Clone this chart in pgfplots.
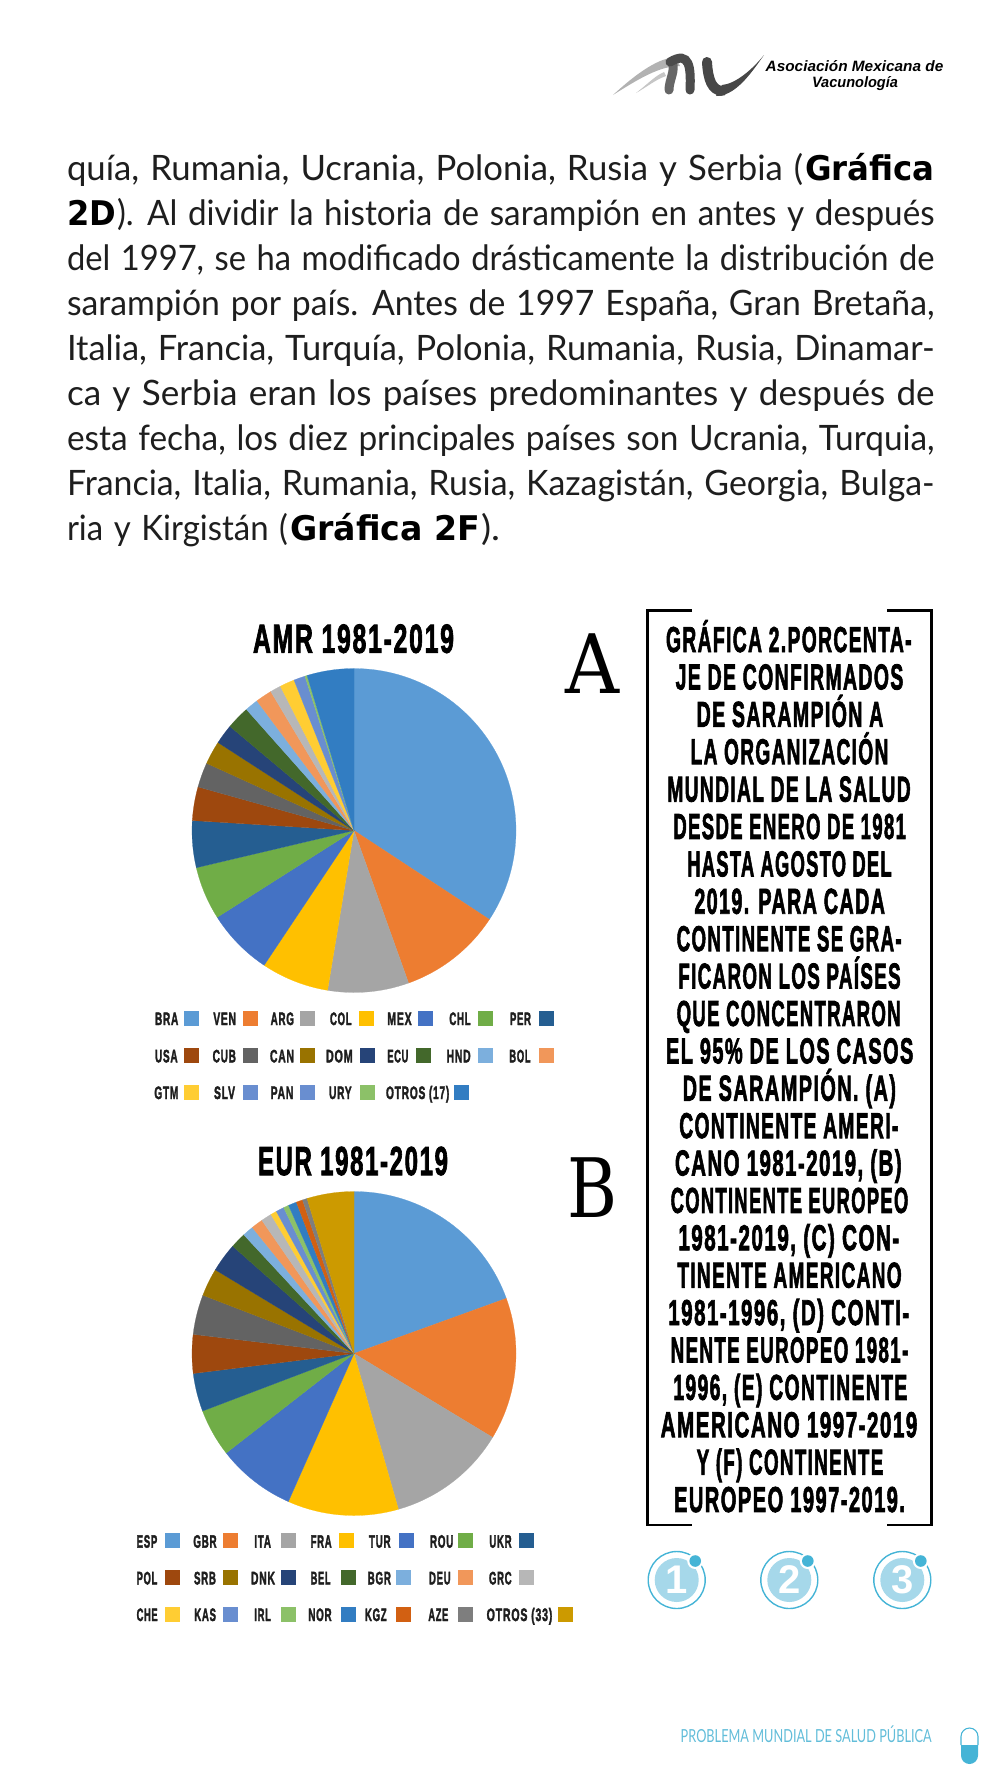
\documentclass[border=0pt]{standalone}
\usepackage{fontspec}
\usepackage{graphicx}
\usepackage{pgfplots}
\usepackage{pgfplotstable}
\pgfplotsset{compat=1.18}
\usepgfplotslibrary{polar}
\setmainfont{Lato}
\newfontfamily\cond[LetterSpace=7,BoldFeatures={FakeBold=2.5}]{Liberation Sans}
\newfontfamily\arialf{Liberation Sans}
\newfontfamily\dejab{DejaVu Sans}
\newfontfamily\slab{DejaVu Serif}
\definecolor{k1}{HTML}{5B9BD5}\definecolor{k2}{HTML}{ED7D31}\definecolor{k3}{HTML}{A5A5A5}
\definecolor{k4}{HTML}{FFC000}\definecolor{k5}{HTML}{4472C4}\definecolor{k6}{HTML}{70AD47}
\definecolor{k7}{HTML}{255E91}\definecolor{k8}{HTML}{9E480E}\definecolor{k9}{HTML}{636363}
\definecolor{k10}{HTML}{997300}\definecolor{k11}{HTML}{264478}\definecolor{k12}{HTML}{43682B}
\definecolor{k13}{HTML}{7CAFDD}\definecolor{k14}{HTML}{F1975A}\definecolor{k15}{HTML}{B7B7B7}
\definecolor{k16}{HTML}{FFCD33}\definecolor{k17}{HTML}{698ED0}\definecolor{k18}{HTML}{8CC168}
\definecolor{k19}{HTML}{327DC2}\definecolor{k20}{HTML}{D26012}\definecolor{k21}{HTML}{7E7E7E}
\definecolor{k22}{HTML}{CC9A00}
\definecolor{ctxt}{HTML}{1E1E1E}
\definecolor{cyan1}{HTML}{45B4D6}\definecolor{cyan2}{HTML}{A6D8EA}\definecolor{cyan3}{HTML}{62BDD9}
\pgfplotstableread{
name share col
BRA 34.25 k1
VEN 10.28 k2
ARG 8.08 k3
COL 6.75 k4
MEX 6.64 k5
CHL 5.31 k6
PER 4.67 k7
USA 3.36 k8
CUB 2.47 k9
CAN 2.33 k10
DOM 1.97 k11
ECU 2.33 k12
HND 1.33 k13
BOL 1.64 k14
GTM 1.08 k15
SLV 1.47 k16
PAN 1.14 k17
URY 0.22 k18
OTROS17 4.68 k19
}\tabA
\pgfplotstableread{
name share col
ESP 19.47 k1
GBR 14.19 k2
ITA 11.92 k3
FRA 11.06 k4
TUR 7.83 k5
ROU 4.75 k6
UKR 3.81 k7
POL 3.86 k8
ND 3.97 k9
SRB 2.78 k10
DNK 2.89 k11
BEL 1.56 k12
BGR 1.11 k13
DEU 1.17 k14
GRC 1.06 k15
CHE 0.61 k16
KAS 0.81 k17
IRL 0.53 k18
NOR 0.83 k19
KGZ 0.64 k20
AZE 0.47 k21
OTROS33 4.69 k22
}\tabB
\newcommand\drawpie[1]{%
 \pgfplotstablegetrowsof{#1}%
 \pgfmathtruncatemacro\lastrow{\pgfplotsretval-1}%
 \xdef\cumul{0}%
 \pgfplotsforeachungrouped \rw in {0,...,\lastrow}{%
  \pgfplotstablegetelem{\rw}{share}\of{#1}\let\shr\pgfplotsretval
  \pgfplotstablegetelem{\rw}{col}\of{#1}\let\slcol\pgfplotsretval
  \pgfmathsetmacro\startang{\cumul*3.6}%
  \pgfmathsetmacro\newcum{\cumul+\shr}%
  \pgfmathsetmacro\endang{\newcum*3.6}%
  \xdef\cumul{\newcum}%
  \xdef\arcpts{(0,0)}%
  \let\curang\startang
  \loop\ifdim\curang pt<\endang pt
    \pgfmathsetmacro\polang{90-\curang}%
    \xdef\arcpts{\arcpts\space(\polang,1)}%
    \pgfmathsetmacro\curang{\curang+2}%
  \repeat
  \pgfmathsetmacro\polang{90-\endang}%
  \xdef\arcpts{\arcpts\space(\polang,1)}%
  \edef\doplot{\noexpand\addplot[fill=\slcol,draw=\slcol,line width=0.2pt] coordinates {\arcpts} -- cycle;}%
  \doplot
 }}
\newsavebox\fitbox
\newcommand\sz[1]{\fontsize{#1}{#1}\selectfont}
% x0, x1, baseline, text: set the text so that it runs from x0 to x1
\newcommand\fitt[4]{%
 \node[anchor=base west,inner sep=0pt,outer sep=0pt] at (#1,#3) {\sbox\fitbox{#4}%
   \pgfmathsetmacro\fsx{(#2-#1)/\the\wd\fitbox}\scalebox{\fsx}[1]{\usebox\fitbox}};}
\newcommand\bodyf{\color{ctxt}\sz{35}\spaceskip=0.32em\relax}
\newcommand\bl[2]{\fitt{67}{934.6}{#1}{\bodyf #2}}
\newcommand\bgr[1]{\dejab\bfseries\color{black}\sz{34}#1}
\def\rt{0}\def\rb{0}\def\ox{0}\def\oy{0}
\newcommand\lgd[5]{% z0 z1 swatch-left text colour
 \pgfmathsetmacro\qa{\ox+#1/3}\pgfmathsetmacro\qb{\ox+#2/3}\pgfmathsetmacro\qc{\oy+\rb/3}%
 \pgfmathsetmacro\qd{\ox+#3/3}\pgfmathsetmacro\qe{\oy+\rt/3}%
 \fitt{\qa}{\qb}{\qc}{\cond\bfseries\color{ctxt}\sz{18}#4}%
 \fill[#5] (\qd,\qe) rectangle ++(15,15);}
\newcommand\bx[4]{% line no, z0, z1, text
 \pgfmathsetmacro\qa{630+#2/3}\pgfmathsetmacro\qb{630+#3/3}\pgfmathsetmacro\qc{652+37.39*#1}%
 \fitt{\qa}{\qb}{\qc}{\cond\bfseries\color{black}\sz{36}#4}}
\newcommand\badge[2]{%
 \draw[cyan1,line width=1.4pt] (#1,1580) circle (28.5);
 \fill[cyan2] (#1,1580) circle (22);
 \node[text=white,inner sep=0pt] at (#1,1580) {\arialf\bfseries\sz{40}#2};
 \fill[white] (#1+18.5,1561) circle (8);
 \fill[cyan1] (#1+18.5,1561) circle (5.8);}
\begin{document}
\begin{tikzpicture}
\path[use as bounding box] (0pt,0pt) rectangle (1000pt,-1778pt);
\begin{polaraxis}[at={(354pt,-830.5pt)},anchor=center,hide axis,scale only axis,width=324pt,height=324pt,
  xmin=0,xmax=360,ymin=0,ymax=1,clip=false]
 \drawpie{\tabA}
\end{polaraxis}
\begin{polaraxis}[at={(354pt,-1353.5pt)},anchor=center,hide axis,scale only axis,width=324pt,height=324pt,
  xmin=0,xmax=360,ymin=0,ymax=1,clip=false]
 \drawpie{\tabB}
\end{polaraxis}
\begin{scope}[x=1pt,y=-1pt]
% header logo
\begin{scope}[line cap=round]
 \fill[gray!60] (613,95) .. controls (640,70) and (660,58) .. (676,57) -- (680,66) .. controls (660,66) and (640,78) .. (613,95) -- cycle;
 \fill[gray!45] (636,93) .. controls (650,82) and (655,76) .. (664,72) -- (666,76) .. controls (655,80) and (650,85) .. (636,93) -- cycle;
 \draw[black!60,line width=9pt] (672,62) .. controls (676,70) and (669,80) .. (669,90);
 \draw[black!70,line width=9pt] (670,62) .. controls (690,50) and (691,68) .. (690,90);
 \draw[black!72,line width=10pt] (707,62) .. controls (708,80) and (712,90) .. (722,91);
 \fill[black!72] (716,96) .. controls (735,96) and (750,75) .. (764,55) .. controls (752,70) and (735,84) .. (722,85) -- cycle;
\end{scope}
\fitt{765.7}{943.3}{71}{\arialf\bfseries\itshape\color{black}\sz{15}Asociación Mexicana de}
\fitt{812}{898}{87}{\arialf\bfseries\itshape\color{black}\sz{15}Vacunología}
% body text
\fitt{67}{803}{180}{\bodyf quía, Rumania, Ucrania, Polonia, Rusia y Serbia (}
\fitt{805}{934.6}{180}{\bgr{Gráfica}}
\fitt{67}{116}{225}{\bgr{2D}}
\fitt{117}{934.6}{225}{\bodyf ). Al dividir la historia de sarampión en antes y después}
\bl{270}{del 1997, se ha modificado drásticamente la distribución de}
\bl{315}{sarampión por país. Antes de 1997 España, Gran Bretaña,}
\bl{360}{Italia, Francia, Turquía, Polonia, Rumania, Rusia, Dinamar-}
\bl{405}{ca y Serbia eran los países predominantes y después de}
\bl{450}{esta fecha, los diez principales países son Ucrania, Turquia,}
\bl{495}{Francia, Italia, Rumania, Rusia, Kazagistán, Georgia, Bulga-}
\fitt{67}{288}{540}{\bodyf ria y Kirgistán (}
\fitt{290}{480}{540}{\bgr{Gráfica 2F}}
\fitt{481}{500}{540}{\bodyf ).}
% titles and panel letters
\fitt{253}{454}{652.7}{\cond\bfseries\color{black}\sz{40.5}AMR 1981-2019}
\fitt{258}{448}{1175}{\cond\bfseries\color{black}\sz{40.5}EUR 1981-2019}
\fitt{565}{619}{693}{\slab\color{black}\sz{82}A}
\fitt{567}{617}{1217}{\slab\color{black}\sz{82}B}
% legend A
\def\ox{130}\def\oy{600}
\def\rt{1233}\def\rb{1275}
\lgd{75}{145}{163}{BRA}{k1}\lgd{250}{318}{338}{VEN}{k2}\lgd{422}{492}{510}{ARG}{k3}\lgd{600}{665}{687}{COL}{k4}\lgd{772}{845}{865}{MEX}{k5}\lgd{958}{1022}{1043}{CHL}{k6}\lgd{1140}{1203}{1228}{PER}{k7}
\def\rt{1345}\def\rb{1387}
\lgd{75}{143}{163}{USA}{k8}\lgd{248}{318}{338}{CUB}{k9}\lgd{420}{492}{510}{CAN}{k10}\lgd{588}{668}{690}{DOM}{k11}\lgd{772}{835}{857}{ECU}{k12}\lgd{950}{1022}{1043}{HND}{k13}\lgd{1138}{1202}{1228}{BOL}{k14}
\def\rt{1455}\def\rb{1497}
\lgd{73}{145}{163}{GTM}{k16}\lgd{252}{315}{338}{SLV}{k17}\lgd{422}{490}{510}{PAN}{k17}\lgd{597}{665}{690}{URY}{k18}\lgd{768}{958}{973}{OTROS (17)}{k19}
% legend B
\def\ox{120}\def\oy{1120}
\def\rt{1240}\def\rb{1283}
\lgd{50}{112}{135}{ESP}{k1}\lgd{220}{290}{310}{GBR}{k2}\lgd{403}{453}{483}{ITA}{k3}\lgd{572}{635}{658}{FRA}{k4}\lgd{747}{812}{838}{TUR}{k5}\lgd{930}{1000}{1015}{ROU}{k6}\lgd{1108}{1175}{1198}{UKR}{k7}
\def\rt{1350}\def\rb{1393}
\lgd{50}{112}{135}{POL}{k8}\lgd{222}{288}{310}{SRB}{k10}\lgd{393}{465}{483}{DNK}{k11}\lgd{572}{632}{662}{BEL}{k12}\lgd{743}{813}{828}{BGR}{k13}\lgd{927}{992}{1015}{DEU}{k14}\lgd{1107}{1175}{1198}{GRC}{k15}
\def\rt{1460}\def\rb{1503}
\lgd{50}{113}{135}{CHE}{k16}\lgd{223}{288}{310}{KAS}{k17}\lgd{403}{453}{483}{IRL}{k18}\lgd{565}{635}{662}{NOR}{k19}\lgd{735}{800}{828}{KGZ}{k20}\lgd{925}{985}{1015}{AZE}{k21}\lgd{1100}{1297}{1313}{OTROS (33)}{k22}
% bracket box
\draw[black,line width=2.6pt,line cap=butt,line join=miter] (692,610.7) -- (647.7,610.7) -- (647.7,1525) -- (692,1525);
\draw[black,line width=2.6pt,line cap=butt,line join=miter] (887,610.7) -- (931.7,610.7) -- (931.7,1525) -- (887,1525);
\bx{0}{108}{845}{GRÁFICA 2.PORCENTA-}
\bx{1}{137}{820}{JE DE CONFIRMADOS}
\bx{2}{200}{760}{DE SARAMPIÓN A}
\bx{3}{182}{775}{LA ORGANIZACIÓN}
\bx{4}{112}{842}{MUNDIAL DE LA SALUD}
\bx{5}{130}{828}{DESDE ENERO DE 1981}
\bx{6}{172}{785}{HASTA AGOSTO DEL}
\bx{7}{193}{765}{2019. PARA CADA}
\bx{8}{140}{815}{CONTINENTE SE GRA-}
\bx{9}{145}{812}{FICARON LOS PAÍSES}
\bx{10}{140}{812}{QUE CONCENTRARON}
\bx{11}{108}{850}{EL 95\% DE LOS CASOS}
\bx{12}{158}{798}{DE SARAMPIÓN. (A)}
\bx{13}{148}{805}{CONTINENTE AMERI-}
\bx{14}{135}{815}{CANO 1981-2019, (B)}
\bx{15}{122}{835}{CONTINENTE EUROPEO}
\bx{16}{145}{808}{1981-2019, (C) CON-}
\bx{17}{142}{815}{TINENTE AMERICANO}
\bx{18}{115}{838}{1981-1996, (D) CONTI-}
\bx{19}{122}{835}{NENTE EUROPEO 1981-}
\bx{20}{130}{832}{1996, (E) CONTINENTE}
\bx{21}{92}{862}{AMERICANO 1997-2019}
\bx{22}{200}{760}{Y (F) CONTINENTE}
\bx{23}{132}{825}{EUROPEO 1997-2019.}
% numbered badges
\badge{676.7}{1}\badge{789.3}{2}\badge{902.3}{3}
% footer
\fitt{680.7}{931.7}{1742.7}{\color{cyan3}\sz{18}PROBLEMA MUNDIAL DE SALUD PÚBLICA}
\fill[cyan1] (961,1745) -- (978,1745) -- (978,1755.5) arc (0:180:8.5) -- cycle;
\draw[cyan1,line width=1.1pt] (961,1745) -- (961,1736.5) arc (180:360:8.5) -- (978,1745);
\end{scope}
\end{tikzpicture}
\end{document}
